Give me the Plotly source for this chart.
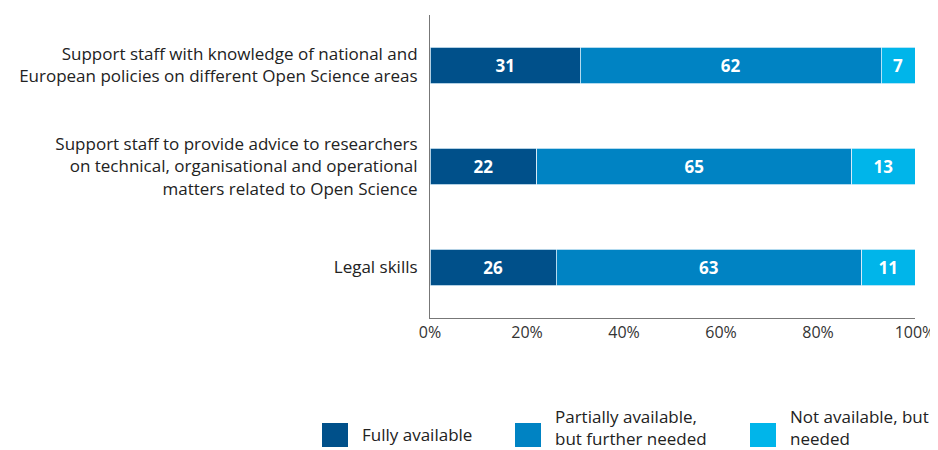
import plotly.graph_objects as go

categories = [
    "Support staff with knowledge of national and<br>European policies on different Open Science areas",
    "Support staff to provide advice to researchers<br>on technical, organisational and operational<br>matters related to Open Science",
    "Legal skills",
]
series_names = [
    "Fully available",
    "Partially available,<br>but further needed",
    "Not available, but<br>needed",
]
fully_available = [31, 22, 26]
partially_available = [62, 65, 63]
not_available = [7, 13, 11]
x_tick_values = [0, 20, 40, 60, 80, 100]
x_tick_labels = ["0%", "20%", "40%", "60%", "80%", "100%"]

colors = ["#00508a", "#0083c3", "#00b5ea"]
font_family = "Open Sans, Roboto, sans-serif"

# legend placement (paper coords): swatch left/right, text left, text centre y
legend_slots = [(-0.2227, -0.1691, -0.1443, -0.386),
                (0.1753, 0.2289, 0.2536, -0.362),
                (0.6598, 0.7134, 0.7381, -0.362)]

fig = go.Figure()

for name, values, color in zip(
    series_names, [fully_available, partially_available, not_available], colors
):
    fig.add_trace(
        go.Bar(
            y=categories,
            x=values,
            orientation="h",
            name=name,
            marker={"color": color, "line": {"color": "#dff0fa", "width": 0.8}},
            text=[str(v) for v in values],
            textposition="inside",
            insidetextanchor="middle",
            textfont={"color": "white", "size": 17, "family": font_family, "weight": "bold"},
            showlegend=False,
            hoverinfo="skip",
        )
    )

for (x0, x1, tx, ty), name, color in zip(legend_slots, series_names, colors):
    fig.add_shape(
        type="rect", xref="paper", yref="paper",
        x0=x0, x1=x1, y0=-0.3465, y1=-0.4257,
        fillcolor=color, line={"width": 0},
    )
    fig.add_annotation(
        x=tx, y=ty, xref="paper", yref="paper",
        text=name, showarrow=False, xanchor="left", yanchor="middle",
        align="left", font={"size": 17, "color": "#222222"},
    )

# the page puts the figure 8px in from the top-left corner
fig.update_layout(
    barmode="stack",
    bargap=0.64,
    width=938,
    height=450,
    margin={"l": 422, "r": 31, "t": 7, "b": 140, "autoexpand": False},
    plot_bgcolor="white",
    paper_bgcolor="white",
    showlegend=False,
    font={"family": font_family, "size": 17, "color": "#222222"},
    xaxis={
        "range": [0, 100],
        "tickvals": x_tick_values,
        "ticktext": x_tick_labels,
        "showgrid": False,
        "zeroline": False,
        "showline": True,
        "linecolor": "#777777",
        "linewidth": 1,
        "ticks": "",
        "automargin": False,
        "tickfont": {"size": 16, "color": "#333333"},
    },
    yaxis={
        "autorange": "reversed",
        "showgrid": False,
        "zeroline": False,
        "showline": True,
        "linecolor": "#777777",
        "linewidth": 1,
        "ticks": "",
        "automargin": False,
        "ticklabelstandoff": 8,
        "tickfont": {"size": 17, "color": "#222222"},
    },
)

fig.write_html("out.html")
